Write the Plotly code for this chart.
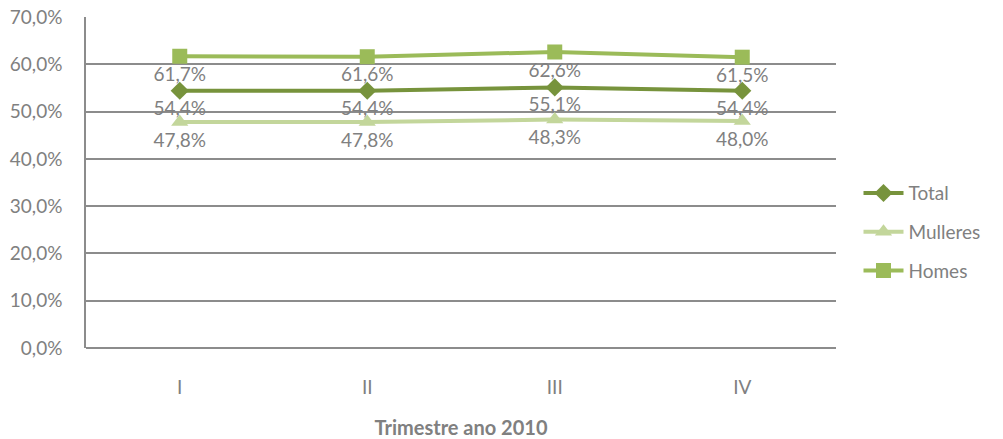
import plotly.graph_objects as go

quarters = ["I", "II", "III", "IV"]
total = [54.4, 54.4, 55.1, 54.4]
mulleres = [47.8, 47.8, 48.3, 48.0]
homes = [61.7, 61.6, 62.6, 61.5]
y_ticks = [0, 10, 20, 30, 40, 50, 60, 70]

def fmt(v):
    return f"{v:.1f}%".replace(".", ",")

FONT = "Lato, 'Open Sans', sans-serif"
GRAY = "#808080"
FS = 19

fig = go.Figure()
series = [
    ("Total", total, "#77933C", "diamond", 14),
    ("Mulleres", mulleres, "#C3D69B", "triangle-up", 15),
    ("Homes", homes, "#9BBB59", "square", 15),
]
for name, vals, color, sym, ms in series:
    fig.add_trace(go.Scatter(
        x=quarters, y=vals, name=name, mode="lines+markers+text",
        line=dict(color=color, width=4),
        marker=dict(symbol=sym, size=ms, color=color),
        text=[fmt(v) for v in vals], textposition="bottom center",
        textfont=dict(size=FS, color=GRAY, family=FONT),
        legendgroup=name, cliponaxis=False,
    ))

fig.update_layout(
    width=1003, height=439,
    margin=dict(l=86, r=167, t=17, b=91, autoexpand=False),
    paper_bgcolor="white", plot_bgcolor="white",
    separators=",.",
    font=dict(family=FONT, color=GRAY, size=FS),
    showlegend=True,
    legend=dict(x=1.03, y=0.35, xanchor="left", yanchor="middle",
                font=dict(size=FS, color=GRAY, family=FONT),
                tracegroupgap=11, itemwidth=40),
    xaxis=dict(range=[-0.5, 3.5], showgrid=False, showline=False, ticks="",
               ticklabelstandoff=26, automargin=False,
               tickfont=dict(size=FS, color=GRAY),
               title=dict(text="<b>Trimestre ano 2010</b>", font=dict(size=20, color=GRAY), standoff=28)),
    yaxis=dict(range=[0, 70], tickvals=y_ticks, ticktext=[fmt(v) for v in y_ticks],
               automargin=False,
               showgrid=True, gridcolor="#8C8C8C", gridwidth=1.5,
               showline=True, linecolor="#8C8C8C", linewidth=1.5,
               zeroline=True, zerolinecolor="#8C8C8C", zerolinewidth=1.5,
               ticks="", ticklabelstandoff=18,
               tickfont=dict(size=FS, color=GRAY)),
)
fig.write_html("out.html", config={"displayModeBar": False},
               post_script="document.body.style.margin='0px';")
